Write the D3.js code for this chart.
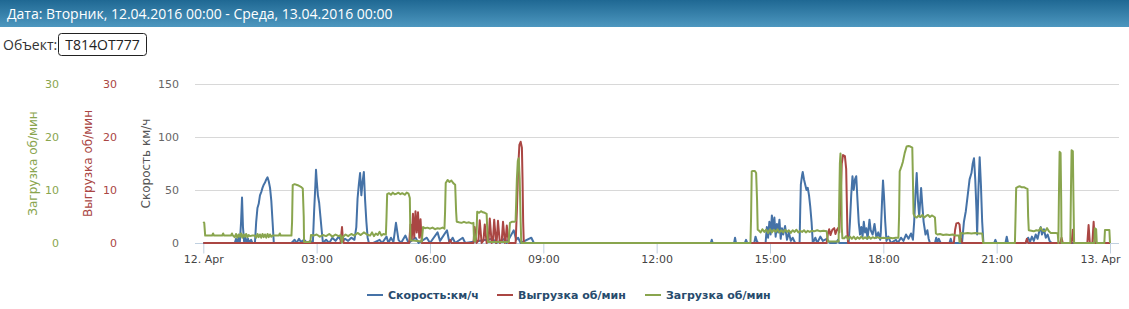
<!DOCTYPE html>
<html>
<head>
<meta charset="utf-8">
<script src="https://cdn.jsdelivr.net/npm/d3@7"></script>
<style>
	body { margin: 0; background: #fff; overflow: hidden; }
	svg text { font-family: "DejaVu Sans", Verdana, sans-serif; }
	.head { font-family: "Open Sans", sans-serif !important; }
	.axis .domain { display: none; }
	.grid line { stroke: #d8d8d8; }
</style>
</head>
<body>
<div id="chart"></div>
<script>
// time in minutes from 12.04.2016 00:00
var xTickMinutes = [0, 180, 360, 540, 720, 900, 1080, 1260, 1440];
var xTickLabels = ['12. Apr', '03:00', '06:00', '09:00', '12:00', '15:00', '18:00', '21:00', '13. Apr'];
var speedTicks = [0, 50, 100, 150];
var loadTicks = [0, 10, 20, 30];
var seriesNames = ['Скорость:км/ч', 'Выгрузка об/мин', 'Загрузка об/мин'];

// Скорость км/ч
var speedData = [[0,0],[50,0],[52,4],[54,1],[56,5],[58,0],[60,20],[61.5,43],[63,15],[65,0],[67,5],[69,1],[71,4],[73,0],[76,3],[78,0],
	[82,0],[84,20],[86,33],[88,37],[90,45],[92,48],[94,52],[96,55],[98,57],[100,60],[102,62],[104,58],[106,52],[108,40],[110,20],[112,0],
	[140,0],[145,3],[148,0],[152,4],[155,1],[160,3],[165,0],[170,2],
	[174,0],[176,30],[178,55],[179,69],[180,60],[182,45],[184,38],[186,25],[188,12],[190,0],
	[195,3],[200,0],[205,5],[210,2],[215,6],[220,1],[225,4],[230,2],[235,5],[240,3],
	[243,15],[245,42],[247,55],[249,66],[251,45],[253,58],[255,67],[257,40],[259,20],[261,5],[263,0],
	[270,0],[280,3],[284,0],[291,6],[294,0],[298,5],[302,1],[306,19],[310,3],[314,0],[321,7],[326,0],[337,5],[342,0],[355,5],[360,0],
	[372,10],[376,2],[387,12],[391,0],[396,5],[400,0],[412,5],[416,0],[460,4],[465,0],[479,4],[482,0],[493,12],[497,3],[500,5],[504,0],[521,5],[525,0],
	[806,0],[807.5,3],[809,0],[843,0],[844.5,5],[846,0],[860,0],[862,3],[864,0],[875,0],[877,6],[879,2],[881,0],
	[893,0],[895,15],[897,5],[899,20],[901,8],[903,26],[905,12],[907,24],[909,6],[911,18],[913,10],[915,22],[917,4],[919,14],[921,8],[924,16],[927,3],[930,10],[933,2],[936,5],[940,0],
	[947,0],[948,30],[949,55],[951,64],[952,67],[954,60],[956,55],[958,50],[960,52],[962,45],[964,34],[966,20],[968,0],
	[972,5],[975,0],[980,6],[984,2],[990,4],[995,0],[1005,0],[1008,3],[1010,0],
	[1025,0],[1027,20],[1029,45],[1031,63],[1033,50],[1035,60],[1037,63],[1039,40],[1041,19],[1043,8],[1045,15],[1047,6],[1049,20],[1051,10],[1053,14],[1055,4],[1058,22],[1060,12],[1063,8],[1066,18],[1069,5],[1072,10],[1075,3],
	[1076,10],[1078,40],[1079.5,59],[1081,45],[1083,20],[1085,2],[1088,6],[1092,0],
	[1100,3],[1103,0],[1108,5],[1112,2],[1116,8],[1120,4],[1124,9],[1127,3],
	[1129,20],[1131,45],[1133,66],[1135,40],[1137,25],[1140,52],[1142,35],[1144,20],[1147,8],[1150,12],[1152,4],[1154,0],
	[1162,0],[1164,5],[1166,1],[1168,4],[1171,0],[1185,0],[1187,4],[1189,0],
	[1205,0],[1208,20],[1211,30],[1214,45],[1217,60],[1220,66],[1222,75],[1224,80],[1226,60],[1228,30],[1229,8],[1231,50],[1233,81],[1235,55],[1237,20],[1239,0],
	[1256,0],[1258,3],[1260,0],[1274,0],[1276,6],[1278,0],
	[1306,0],[1310,5],[1313,1],[1316,6],[1319,2],[1322,8],[1325,4],[1328,12],[1330,15],[1332,8],[1335,13],[1338,5],[1341,8],[1344,2],[1347,0],[1440,0]];

// Выгрузка об/мин
var unloadData = [[0,0],[218,0],[219.5,2],[220.3,3],[221.5,1],[223,0],
	[327,0],[329,3.5],[331,0.5],[333,5.5],[335,1],[337,6],[339,2],[341,5.8],[343,1],[345,4.5],[347,0],
	[390,0],[392,0.6],[394,0],
	[429,0],[431,3.0],[434,0],[437,0.5],[439,4.3],[442,0],[445,0.5],[447,3.5],[450,0],[453,0.3],[455,4.6],[458,0],[460,0.4],[462,4.4],[465,0],
	[466,0.3],[468,4.2],[471,0],[474,0.4],[476,4.0],[479,0],[480,0.3],[482,3.3],[485,0],
	[496,0],[498,6],[500,14],[502,18.5],[504,19.1],[506,18],[507,12],[508,4],[509,0],
	[990,0],[992,1.8],[994,2.6],[996,1.5],[999,2.5],[1002,2.8],[1004,1.7],[1006,2.4],[1008,2.8],
	[1010,2],[1012,8],[1014,15],[1016,16.6],[1019,16.4],[1021,14],[1022,8],[1023,2],[1024,0],
	[1192,0],[1194,2.5],[1196,3.7],[1199,3.8],[1201,3.5],[1203,1],[1205,0],
	[1306,0],[1308,0.8],[1310,0],[1361,0],[1363,1],[1365,0],[1379,0],[1381,2.5],[1383,0],
	[1404,0],[1406,3.4],[1408,0],[1412,0],[1414,4.0],[1416,0],[1440,0]];

// Загрузка об/мин
var loadData = [[0,4.0],[1.5,3.8],[3,1.4],[14,1.4],[15.5,1.8],[17,1.4],[30,1.4],[31.5,1.8],[33,1.4],[44,1.4],[45.5,1.8],[47,1.4],
	[50,1.1],[52,1.7],[54,1.0],[56,1.6],[58,1.2],[60,1.8],[62,1.0],[64,1.6],[66,1.2],[68,1.7],[70,1.1],[72,1.5],[74,1.3],[78,1.4],
	[82,1.4],[84,1.0],[86,1.7],[88,1.1],[90,1.6],[92,1.0],[94,1.7],[96,1.1],[98,1.6],[100,1.0],[102,1.7],[104,1.1],[106,1.6],[108,1.2],[110,1.4],
	[120,1.4],[121.5,1.8],[123,1.4],[135,1.4],[140,1.4],[141,4],[142,10.9],[145,11.1],[150,10.9],[155,10.6],[158,10.3],[159.5,5],[160,0.2],[170,0.2],[171,1.5],
	[175,1.4],[180,1.6],[185,1.2],[190,1.5],[195,1.3],[200,1.7],[205,1.2],[210,1.6],[215,1.3],[218,1.5],[220,0.1],[222,1.2],[226,1.6],[230,1.3],[235,1.7],[240,1.4],[245,1.9],[250,1.5],[255,2.0],[260,1.6],
	[265,1.4],[268,2.0],[271,1.3],[274,1.8],[277,1.5],[280,2.1],[283,1.4],[286,1.7],[289,1.6],
	[290,1.6],[291,5],[292,9.2],[295,9.4],[298,9.1],[301,9.5],[304,9.2],[307,9.3],[310,9.5],[313,9.2],[316,9.4],[320,9.1],[323,9.5],[326,9.3],[328,8.5],[329,0.5],
	[347,0.3],[349,3.0],[352,2.8],[356,2.9],[360,2.7],[364,2.9],[368,2.6],[372,2.8],[376,2.7],[380,2.9],[383,2.7],[384,6],[385,11.3],[388,11.9],[391,11.5],[394,11.8],[397,11.3],[400,11.0],[401.5,6],
	[402.5,4.0],[406,3.9],[410,3.8],[414,4.0],[418,3.8],[422,3.9],[426,3.7],[429,3.8],[430,0.5],[432,0.3],[434,2],[435,5.9],[438,5.7],[441,6.0],[444,5.8],[447,5.7],[450,5.5],[451.5,1],[452,0.2],
	[485,0.2],[487,3.8],[490,4.0],[494,4.0],[496,4.2],[497,8],[498,12],[499.5,15.5],[501,16],[502.5,12],[504,4],[505,0],
	[869,0],[870,5],[871,13.5],[873,13.6],[876,13.6],[878,13.2],[879.5,8],[880.5,2.5],
	[882,2.4],[885,2.0],[888,2.6],[891,2.1],[894,2.5],[897,1.9],[900,2.6],[903,2.0],[906,2.5],[909,2.1],[912,2.6],[915,2.0],[918,2.4],[921,2.0],[924,2.5],[927,2.1],[930,2.4],[933,1.9],
	[936,2.4],[939,2.1],[942,2.5],[945,2.0],[948,2.3],[951,2.1],[954,2.4],[957,2.0],[960,2.3],[963,2.1],[966,2.3],[970,2.2],[975,2.4],[980,2.2],[985,2.3],[990,2.2],[992,0.3],
	[1009,0.3],[1010,8],[1011,15],[1012,16.9],[1013,14],[1014,3],[1015,0.9],
	[1018,0.9],[1021,1.3],[1024,0.7],[1027,1.2],[1030,0.8],[1033,1.2],[1036,0.7],[1039,1.1],[1042,0.8],[1045,1.2],[1048,0.8],[1051,1.1],[1054,0.8],[1057,1.2],[1060,0.8],[1063,1.1],[1066,0.9],
	[1070,1.1],[1075,0.9],[1080,1.0],[1085,0.9],[1090,1.0],[1095,0.9],[1100,1.0],[1104,1.0],
	[1105,5],[1106,13.5],[1109,14.5],[1111,15.3],[1114,17],[1117,18.2],[1120,18.3],[1123,18.2],[1126,18.0],[1127,12],[1128,5.5],
	[1130,5.0],[1133,4.8],[1136,5.2],[1139,4.9],[1142,5.3],[1145,4.8],[1148,5.1],[1151,5.3],[1154,4.9],[1157,5.2],[1160,5.0],[1162,4.8],[1163.5,1.8],
	[1166,1.6],[1170,1.7],[1175,1.5],[1180,1.6],[1185,1.5],[1190,1.6],[1195,1.4],[1200,1.4],[1201,0.2],[1202,0.2],[1203,1.9],[1208,1.8],[1214,1.9],[1220,1.8],[1226,1.9],[1232,1.8],[1237,1.8],[1238.5,0],
	[1289,0],[1290,5],[1291,10.4],[1294,10.6],[1297,10.7],[1300,10.5],[1304,10.5],[1307,10.3],[1309,10.2],[1310,5],[1311,2.4],
	[1315,2.3],[1319,2.2],[1323,2.4],[1327,2.3],[1330,2.9],[1333,2.3],[1337,2.2],[1340,2.8],[1343,2.2],[1346,1.9],[1350,1.9],[1354,1.9],[1357,1.8],
	[1358,0],[1359,10],[1360,17.2],[1361.5,17],[1362.5,8],[1363,0],[1377,0],[1378,10],[1379,17.5],[1381,17.3],[1382,8],[1383,0],
	[1415,0],[1416,2.8],[1418,2.6],[1419,0],[1431,0],[1432,2.45],[1439,2.45],[1440,0]];

var width = 1129, height = 309;
var plotLeft = 195, plotRight = 1119, plotTop = 84, plotBottom = 243;
var colors = ['#4572A7', '#AA4643', '#89A54E'];

var svg = d3.select('#chart').append('svg')
	.attr('width', width)
	.attr('height', height);

//header/////////////////////////////////////////////////////////////////////////
var grad = svg.append('defs').append('linearGradient')
	.attr('id', 'hdr')
	.attr('x1', 0).attr('y1', 0).attr('x2', 0).attr('y2', 1);
grad.append('stop').attr('offset', '0%').attr('stop-color', '#1f6893');
grad.append('stop').attr('offset', '100%').attr('stop-color', '#4d97bf');

svg.append('rect')
	.attr('width', width)
	.attr('height', 27)
	.attr('fill', 'url(#hdr)');
svg.append('text')
	.attr('class', 'head')
	.attr('x', 7)
	.attr('y', 19)
	.attr('fill', '#fff')
	.style('font-size', '14px')
	.text('Дата: Вторник, 12.04.2016 00:00 - Среда, 13.04.2016 00:00');

svg.append('text')
	.attr('class', 'head')
	.attr('x', 3)
	.attr('y', 50)
	.attr('fill', '#333')
	.style('font-size', '14px')
	.text('Объект:');
svg.append('rect')
	.attr('x', 58.5).attr('y', 33.5)
	.attr('width', 88).attr('height', 22)
	.attr('rx', 3)
	.attr('fill', '#fff')
	.attr('stroke', '#222');
svg.append('text')
	.attr('class', 'head')
	.attr('x', 102.5)
	.attr('y', 50)
	.attr('text-anchor', 'middle')
	.attr('fill', '#222')
	.style('font-size', '14px')
	.text('T814OT777');

//scales/////////////////////////////////////////////////////////////////////////
var x = d3.scaleLinear().domain([0, 1440]).range([203.3, 1110]);
var ySpeed = d3.scaleLinear().domain([0, 150]).range([plotBottom, plotTop]);
var yLoad = d3.scaleLinear().domain([0, 30]).range([plotBottom, plotTop]);

// gridlines
svg.append('g')
	.attr('class', 'grid axis')
	.attr('transform', 'translate(' + plotLeft + ',0)')
	.call(d3.axisLeft(ySpeed).tickValues(speedTicks.slice(1)).tickSize(-(plotRight - plotLeft)).tickFormat(''));

// y axes: speed, unload, load
function yAxis(scale, ticks, xpos, color) {
	var g = svg.append('g')
		.attr('class', 'axis')
		.attr('transform', 'translate(' + xpos + ',0)')
		.call(d3.axisLeft(scale).tickValues(ticks).tickSize(0).tickPadding(0));
	g.selectAll('text')
		.attr('fill', color)
		.attr('dy', '0.35em')
		.style('font-size', '11px');
	return g;
}
yAxis(ySpeed, speedTicks, 179, '#666');
yAxis(yLoad, loadTicks, 117, colors[1]);
yAxis(yLoad, loadTicks, 59, colors[2]);

function yTitle(label, xpos, color) {
	svg.append('text')
		.attr('transform', 'translate(' + xpos + ',' + ((plotTop + plotBottom) / 2) + ') rotate(-90)')
		.attr('text-anchor', 'middle')
		.attr('fill', color)
		.style('font-size', '12px')
		.text(label);
}
yTitle('Скорость км/ч', 150, '#555');
yTitle('Выгрузка об/мин', 92, colors[1]);
yTitle('Загрузка об/мин', 37, colors[2]);

// x axis
svg.append('line')
	.attr('x1', plotLeft).attr('x2', plotRight)
	.attr('y1', plotBottom + 0.5).attr('y2', plotBottom + 0.5)
	.attr('stroke', '#C0D0E0');
var xAxis = svg.append('g')
	.attr('class', 'axis')
	.attr('transform', 'translate(0,' + (plotBottom + 0.5) + ')')
	.call(d3.axisBottom(x).tickValues(xTickMinutes).tickSize(10).tickPadding(2)
		.tickFormat(function(d, i) { return xTickLabels[i]; }));
xAxis.selectAll('line').attr('stroke', '#C0D0E0');
xAxis.selectAll('text')
	.attr('fill', '#444')
	.style('font-size', '11px');
// keep the last label inside the chart, like the original does
xAxis.selectAll('.tick:last-of-type text')
	.attr('text-anchor', 'end')
	.attr('dx', 10);

//series/////////////////////////////////////////////////////////////////////////
var series = [
	{name: seriesNames[0], data: speedData, y: ySpeed, color: colors[0]},
	{name: seriesNames[1], data: unloadData, y: yLoad, color: colors[1]},
	{name: seriesNames[2], data: loadData, y: yLoad, color: colors[2]}
];

series.forEach(function(s) {
	var line = d3.line()
		.x(function(d) { return x(d[0]); })
		.y(function(d) { return s.y(d[1]); });
	svg.append('path')
		.datum(s.data)
		.attr('fill', 'none')
		.attr('stroke', s.color)
		.attr('stroke-width', 2)
		.attr('stroke-linejoin', 'round')
		.attr('d', line);
});

//legend/////////////////////////////////////////////////////////////////////////
var legendX = [367, 497, 645];
var legend = svg.selectAll('.legitem')
	.data(series)
	.enter().append('g')
	.attr('class', 'legitem')
	.attr('transform', function(d, i) { return 'translate(' + legendX[i] + ',295)'; });
legend.append('line')
	.attr('x1', 0).attr('x2', 16)
	.attr('stroke', function(d) { return d.color; })
	.attr('stroke-width', 2);
legend.append('text')
	.attr('x', 21)
	.attr('dy', '0.35em')
	.attr('fill', '#274b6d')
	.style('font-size', '11px')
	.style('font-weight', 'bold')
	.text(function(d) { return d.name; });
</script>
</body>
</html>
